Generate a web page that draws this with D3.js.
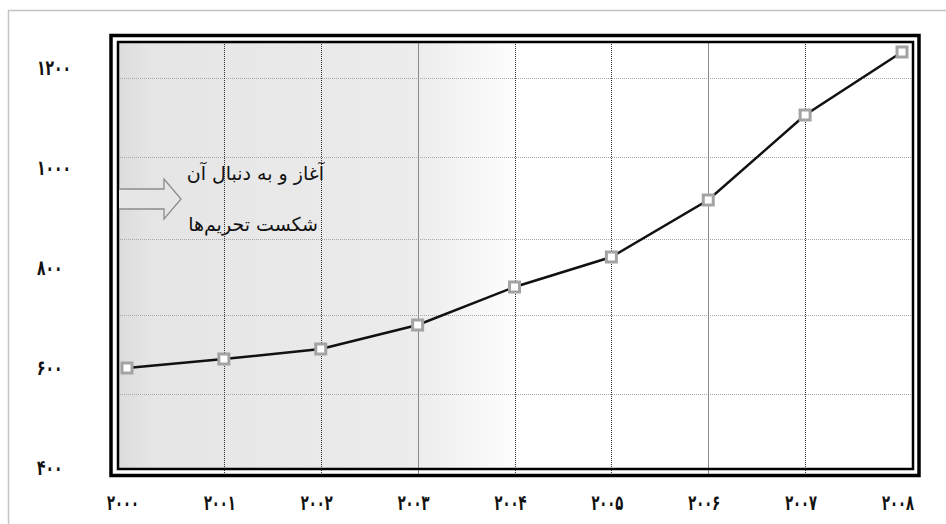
<!DOCTYPE html>
<html>
<head>
<meta charset="utf-8">
<style>
body { margin: 0; background: #fff; }
</style>
</head>
<body>
<script src="https://d3js.org/d3.v7.min.js"></script>
<script>
// data
var years = [2000, 2001, 2002, 2003, 2004, 2005, 2006, 2007, 2008]
var values = [600, 618, 638, 686, 762, 822, 936, 1106, 1232]
var yTicks = [400, 600, 800, 1000, 1200]
var yTickLabels = ["۴۰۰", "۶۰۰", "۸۰۰", "۱۰۰۰", "۱۲۰۰"]
var xTickLabels = ["۲۰۰۰", "۲۰۰۱", "۲۰۰۲", "۲۰۰۳", "۲۰۰۴", "۲۰۰۵", "۲۰۰۶", "۲۰۰۷", "۲۰۰۸"]
var hGrid = [548, 706, 858, 1022, 1180]
var solidYears = [2003, 2006]
var noteLines = ["آغاز و به دنبال آن", "شکست تحریم‌ها"]

var svgWidth = 946
var svgHeight = 524

var svg = d3.select("body").append("svg")
	.attr("width", svgWidth)
	.attr("height", svgHeight)

// plot box
var plotLeft = 118, plotRight = 913, plotTop = 42, plotBottom = 469

var x = d3.scaleLinear().domain([2000, 2008]).range([127, 902])
var y = d3.scaleLinear().domain([400, 1250]).range([468, 43])

var defs = svg.append("defs")
var grad = defs.append("linearGradient")
	.attr("id", "bg")
	.attr("x1", "0").attr("x2", "1").attr("y1", "0").attr("y2", "0")
grad.append("stop").attr("offset", "0").attr("stop-color", "#dcdcdc")
grad.append("stop").attr("offset", "0.04").attr("stop-color", "#e5e5e5")
grad.append("stop").attr("offset", "0.37").attr("stop-color", "#ececec")
grad.append("stop").attr("offset", "0.51").attr("stop-color", "#ffffff")
grad.append("stop").attr("offset", "1").attr("stop-color", "#ffffff")

// outer light frame
svg.append("rect")
	.attr("x", 8.5).attr("y", 10.5)
	.attr("width", 960).attr("height", 540)
	.attr("fill", "none")
	.attr("stroke", "#c4c4c4")
	.attr("stroke-width", 1.5)

// background
svg.append("rect")
	.attr("x", plotLeft).attr("y", plotTop)
	.attr("width", plotRight - plotLeft).attr("height", plotBottom - plotTop)
	.attr("fill", "url(#bg)")

// horizontal grid
svg.append("g").selectAll("line")
	.data(hGrid)
	.enter().append("line")
	.attr("x1", plotLeft).attr("x2", plotRight)
	.attr("y1", function(d) { return Math.round(y(d)) + 0.5 })
	.attr("y2", function(d) { return Math.round(y(d)) + 0.5 })
	.attr("stroke", "#a8a8a8")
	.attr("stroke-width", 1)
	.attr("stroke-dasharray", "1,1")

// vertical grid
svg.append("g").selectAll("line")
	.data(years.slice(1, 8))
	.enter().append("line")
	.attr("x1", function(d) { return Math.round(x(d)) + 0.5 })
	.attr("x2", function(d) { return Math.round(x(d)) + 0.5 })
	.attr("y1", plotTop).attr("y2", plotBottom + 8)
	.attr("stroke", function(d) { return solidYears.indexOf(d) >= 0 ? "#8a8a8a" : "#333" })
	.attr("stroke-width", 1)
	.attr("stroke-dasharray", function(d) { return solidYears.indexOf(d) >= 0 ? null : "1,1" })

// double frame
svg.append("rect")
	.attr("x", 111).attr("y", 35.5)
	.attr("width", 808).attr("height", 440)
	.attr("fill", "none")
	.attr("stroke", "#000")
	.attr("stroke-width", 3.5)
svg.append("rect")
	.attr("x", plotLeft).attr("y", plotTop)
	.attr("width", plotRight - plotLeft).attr("height", plotBottom - plotTop)
	.attr("fill", "none")
	.attr("stroke", "#000")
	.attr("stroke-width", 2.5)

// arrow annotation
var ax = plotLeft + 1, ay = 199
svg.append("path")
	.attr("d", "M" + ax + " " + (ay - 10) + " L" + (ax + 45) + " " + (ay - 10) +
		" L" + (ax + 45) + " " + (ay - 20) + " L" + (ax + 62) + " " + ay +
		" L" + (ax + 45) + " " + (ay + 20) + " L" + (ax + 45) + " " + (ay + 10) +
		" L" + ax + " " + (ay + 10))
	.attr("fill", "#e6e6e6")
	.attr("stroke", "#8c8c8c")
	.attr("stroke-width", 1.3)

svg.append("g").selectAll("text")
	.data(noteLines)
	.enter().append("text")
	.attr("x", function(d, i) { return i == 0 ? 324 : 318 })
	.attr("y", function(d, i) { return 180 + i * 51 })
	.attr("direction", "rtl")
	.attr("text-anchor", "start")
	.style("font-family", "DejaVu Sans")
	.style("font-size", "19px")
	.style("fill", "#111")
	.text(function(d) { return d })

// line
var line = d3.line()
	.x(function(d, i) { return x(years[i]) })
	.y(function(d) { return y(d) })

svg.append("path")
	.datum(values)
	.attr("d", line)
	.attr("fill", "none")
	.attr("stroke", "#111")
	.attr("stroke-width", 2.5)

svg.append("g").selectAll("rect")
	.data(values)
	.enter().append("rect")
	.attr("x", function(d, i) { return x(years[i]) - 5 })
	.attr("y", function(d) { return y(d) - 5 })
	.attr("width", 10).attr("height", 10)
	.attr("fill", "#fff")
	.attr("stroke", "#a3a3a3")
	.attr("stroke-width", 3)

// y labels (squeezed, the DejaVu persian digits are wide)
svg.append("g").selectAll("text")
	.data(yTicks)
	.enter().append("text")
	.attr("x", 37)
	.attr("y", function(d) { return y(d) + 7 })
	.attr("textLength", function(d, i) { return yTickLabels[i].length * 8.5 })
	.attr("lengthAdjust", "spacingAndGlyphs")
	.style("font-family", "DejaVu Sans")
	.style("font-weight", "bold")
	.style("font-size", "21px")
	.style("fill", "#111")
	.text(function(d, i) { return yTickLabels[i] })

// x labels
svg.append("g").selectAll("text")
	.data(years)
	.enter().append("text")
	.attr("x", function(d) { return x(d) - 4 - 16 })
	.attr("y", 510)
	.attr("textLength", 32)
	.attr("lengthAdjust", "spacingAndGlyphs")
	.style("font-family", "DejaVu Sans")
	.style("font-weight", "bold")
	.style("font-size", "21px")
	.style("fill", "#111")
	.text(function(d, i) { return xTickLabels[i] })
</script>
</body>
</html>
